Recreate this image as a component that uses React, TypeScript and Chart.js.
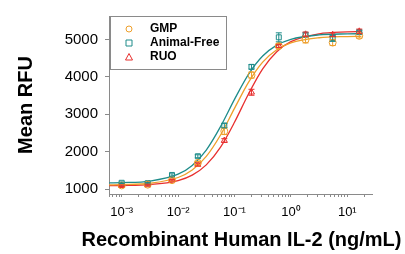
import React, { useEffect, useRef } from "react";
import { Chart, registerables } from "chart.js";

Chart.register(...registerables);

// ---- Data ----
const doses = [0.001, 0.00289, 0.0078, 0.0224, 0.066, 0.2, 0.61, 1.82, 5.5, 16.3];

const gmpValues = [1100, 1120, 1240, 1700, 2550, 4050, 4830, 5000, 4920, 5100];
const gmpErrors = [20, 20, 30, 40, 90, 80, 60, 90, 80, 60];

const afValues = [1170, 1160, 1380, 1880, 2700, 4270, 5060, 5130, 5040, 5200];
const afErrors = [20, 20, 30, 40, 60, 60, 120, 50, 90, 50];

const ruoValues = [1090, 1110, 1240, 1660, 2300, 3590, 4830, 5140, 5130, 5220];
const ruoErrors = [20, 20, 20, 40, 50, 80, 40, 60, 50, 60];

// fitted curves, read at these doses
const curveDoses = [0.0006, 0.001, 0.00316, 0.01, 0.0178, 0.0316, 0.0562, 0.1, 0.178, 0.316, 0.562, 1, 3.16, 10, 17.8];
const gmpCurve = [1115, 1121, 1157, 1311, 1512, 1874, 2440, 3160, 3863, 4397, 4728, 4911, 5048, 5080, 5086];
const afCurve = [1167, 1173, 1216, 1400, 1634, 2045, 2664, 3400, 4076, 4560, 4852, 5008, 5125, 5152, 5157];
const ruoCurve = [1094, 1097, 1122, 1230, 1375, 1648, 2115, 2788, 3552, 4217, 4675, 4943, 5154, 5205, 5214];

const seriesNames = ["GMP", "Animal-Free", "RUO"];

const xTickValues = [0.001, 0.01, 0.1, 1, 10];
const xTickLabels = ["10\u207B\u00B3", "10\u207B\u00B2", "10\u207B\u00B9", "10\u2070", "10\u00B9"];
const yTickValues = [1000, 2000, 3000, 4000, 5000];

const xTitle = "Recombinant Human IL-2 (ng/mL)";
const yTitle = "Mean RFU";

const ORANGE = "#EE9F2A";
const TEAL = "#1E8C8A";
const RED = "#E8302F";
const FONT = "'Liberation Sans', Arial, sans-serif";
const AXIS_GRAY = "#8a8a8a";

const errorBarPlugin = {
  id: "errorBars",
  afterDatasetsDraw(chart: any) {
    const { ctx } = chart;
    const xs = chart.scales.x;
    const ys = chart.scales.y;
    chart.data.datasets.forEach((ds: any) => {
      if (!ds.errors) return;
      ctx.save();
      ctx.strokeStyle = ds.borderColor;
      ctx.lineWidth = 1;
      ds.data.forEach((p: any, i: number) => {
        const e = ds.errors[i];
        const x = xs.getPixelForValue(p.x);
        const y1 = ys.getPixelForValue(p.y - e);
        const y2 = ys.getPixelForValue(p.y + e);
        ctx.beginPath();
        ctx.moveTo(x, y1);
        ctx.lineTo(x, y2);
        ctx.moveTo(x - 3, y1);
        ctx.lineTo(x + 3, y1);
        ctx.moveTo(x - 3, y2);
        ctx.lineTo(x + 3, y2);
        ctx.stroke();
      });
      ctx.restore();
    });
  },
};

// x-axis title drawn without the scale's maxWidth squeeze
const xTitlePlugin = {
  id: "xTitle",
  afterDraw(chart: any) {
    const { ctx, chartArea } = chart;
    ctx.save();
    ctx.fillStyle = "#000";
    ctx.font = `bold 20px ${FONT}`;
    ctx.textAlign = "center";
    ctx.textBaseline = "middle";
    ctx.fillText(xTitle, (chartArea.left + chartArea.right) / 2 + 1, 240);
    ctx.restore();
  },
};

const legendPlugin = {
  id: "boxLegend",
  afterDraw(chart: any) {
    const { ctx, chartArea } = chart;
    const left = chartArea.left + 1;
    const top = chartArea.top;
    const w = 116;
    const h = 53;
    ctx.save();
    ctx.strokeStyle = "#8a8a8a";
    ctx.lineWidth = 1;
    ctx.fillStyle = "#ffffff";
    ctx.fillRect(left, top, w, h);
    ctx.strokeRect(left + 0.5, top + 0.5, w, h);
    const styles = [
      { color: ORANGE, shape: "circle" },
      { color: TEAL, shape: "rect" },
      { color: RED, shape: "triangle" },
    ];
    seriesNames.forEach((name, i) => {
      const cy = top + 13 + i * 14;
      const cx = left + 19;
      const s = styles[i];
      ctx.strokeStyle = s.color;
      ctx.lineWidth = 1;
      ctx.beginPath();
      if (s.shape === "circle") {
        ctx.arc(cx, cy, 3, 0, Math.PI * 2);
      } else if (s.shape === "rect") {
        ctx.rect(cx - 3, cy - 3, 6, 6);
      } else {
        ctx.moveTo(cx, cy - 3.5);
        ctx.lineTo(cx + 3.5, cy + 3);
        ctx.lineTo(cx - 3.5, cy + 3);
        ctx.closePath();
      }
      ctx.stroke();
      ctx.fillStyle = "#000";
      ctx.font = `bold 12px ${FONT}`;
      ctx.textBaseline = "middle";
      ctx.textAlign = "left";
      ctx.fillText(name, left + 40, cy);
    });
    ctx.restore();
  },
};

function pts(xs: number[], ys: number[]) {
  return xs.map((x, i) => ({ x, y: ys[i] }));
}

export default function App() {
  const ref = useRef<HTMLCanvasElement | null>(null);

  useEffect(() => {
    if (!ref.current) return;
    const curveDs = (label: string, data: number[], color: string) => ({
      label,
      data: pts(curveDoses, data),
      borderColor: color,
      backgroundColor: color,
      borderWidth: 1.3,
      pointRadius: 0,
      cubicInterpolationMode: "monotone",
      showLine: true,
      order: 2,
    });
    const pointDs = (label: string, data: number[], errors: number[], color: string, style: string) => ({
      label,
      data: pts(doses, data),
      errors,
      borderColor: color,
      backgroundColor: "rgba(255,255,255,0)",
      pointStyle: style,
      pointRadius: 3.5,
      pointBorderWidth: 1,
      showLine: false,
      order: 1,
    });

    const chart = new Chart(ref.current, {
      type: "scatter",
      data: {
        datasets: [
          curveDs("GMP fit", gmpCurve, ORANGE),
          curveDs("Animal-Free fit", afCurve, TEAL),
          curveDs("RUO fit", ruoCurve, RED),
          pointDs(seriesNames[0], gmpValues, gmpErrors, ORANGE, "circle"),
          pointDs(seriesNames[1], afValues, afErrors, TEAL, "rect"),
          pointDs(seriesNames[2], ruoValues, ruoErrors, RED, "triangle"),
        ] as any,
      },
      options: {
        responsive: false,
        animation: false,
        devicePixelRatio: 1,
        layout: { padding: { left: 0, top: 5, right: 33, bottom: 0 } },
        plugins: { legend: { display: false }, tooltip: { enabled: false } },
        scales: {
          x: {
            type: "logarithmic",
            min: 0.000596,
            max: 27.4,
            afterBuildTicks(scale: any) {
              const ticks: any[] = [];
              for (let e = -4; e <= 1; e++) {
                for (let m = 1; m <= 9; m++) {
                  const v = m * Math.pow(10, e);
                  if (v >= scale.min && v <= scale.max) ticks.push({ value: v });
                }
              }
              scale.ticks = ticks;
            },
            afterFit(scale: any) {
              scale.height = 60;
            },
            ticks: {
              autoSkip: false,
              maxRotation: 0,
              minRotation: 0,
              padding: 8,
              color: "#000",
              font: { family: FONT, size: 13 },
              callback(value: any) {
                const idx = xTickValues.findIndex((t) => Math.abs(Math.log10(t) - Math.log10(value)) < 1e-6);
                return idx >= 0 ? xTickLabels[idx] : "";
              },
            },
            grid: { drawOnChartArea: false, drawTicks: true, tickLength: 3, color: AXIS_GRAY },
            border: { display: true, color: AXIS_GRAY, width: 1 },
            title: { display: false, text: xTitle },
          },
          y: {
            type: "linear",
            min: 870,
            max: 5630,
            afterBuildTicks(scale: any) {
              scale.ticks = yTickValues.map((v) => ({ value: v }));
            },
            afterFit(scale: any) {
              scale.width = 109;
            },
            ticks: {
              padding: 7,
              color: "#000",
              font: { family: FONT, size: 15 },
              callback(value: any) {
                return String(value);
              },
            },
            grid: { drawOnChartArea: false, drawTicks: true, tickLength: 4, color: AXIS_GRAY },
            border: { display: true, color: AXIS_GRAY, width: 1 },
            title: {
              display: true,
              text: yTitle,
              color: "#000",
              font: { family: FONT, size: 20, weight: "bold" },
              padding: { top: 14, bottom: 0 },
            },
          },
        },
      },
      plugins: [errorBarPlugin, legendPlugin, xTitlePlugin],
    } as any);
    return () => chart.destroy();
  }, []);

  return (
    <div style={{ position: "absolute", left: 0, top: 0, width: 405, height: 254, background: "#fff" }}>
      <canvas ref={ref} width={405} height={254} style={{ display: "block" }} />
    </div>
  );
}
